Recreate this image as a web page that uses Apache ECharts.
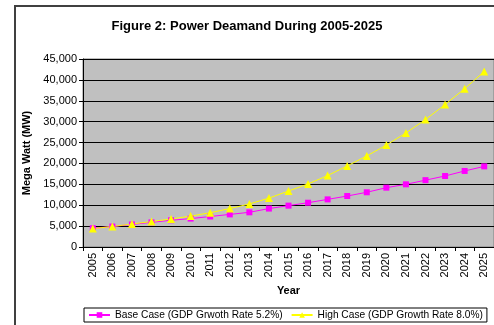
<!DOCTYPE html>
<html>
<head>
<meta charset="UTF-8">
<script src="https://cdn.jsdelivr.net/npm/echarts@6/dist/echarts.min.js"></script>
<style>
  html, body { margin: 0; padding: 0; background: #fff; }
  #chart { width: 494px; height: 325px; }
</style>
</head>
<body>
<div id="chart"></div>
<script>
var years = ['2005','2006','2007','2008','2009','2010','2011','2012','2013','2014','2015',
             '2016','2017','2018','2019','2020','2021','2022','2023','2024','2025'];
var baseCase = [4500, 4900, 5400, 5900, 6400, 6800, 7300, 7800, 8300, 9200, 9900,
                10600, 11400, 12200, 13100, 14200, 15000, 16000, 17000, 18200, 19300];
var highCase = [4400, 4900, 5500, 6100, 6700, 7400, 8200, 9200, 10300, 11700, 13400,
                15100, 17100, 19400, 21800, 24400, 27300, 30500, 34100, 37900, 42000];
var yTicks = [0, 5000, 10000, 15000, 20000, 25000, 30000, 35000, 40000, 45000];

var font = 'Liberation Sans, Arial, sans-serif';
var ec = echarts.init(document.getElementById('chart'));
var option = {
    animation: false,
    backgroundColor: '#fff',
    textStyle: { fontFamily: font },
    title: {
        text: 'Figure 2: Power Deamand During 2005-2025',
        left: 'center',
        top: 15,
        textStyle: { fontFamily: font, fontSize: 13, fontWeight: 'bold', color: '#000' }
    },
    graphic: [{
        type: 'rect',
        shape: { x: 15, y: 6, width: 500, height: 340 },
        style: { fill: null, stroke: '#404040', lineWidth: 2 },
        silent: true
    }],
    legend: {
        left: 84,
        bottom: 3,
        width: 420,
        orient: 'horizontal',
        padding: [2, 4, 2, 4],
        borderColor: '#000',
        borderWidth: 1,
        itemGap: 8,
        itemWidth: 21,
        itemHeight: 7,
        textStyle: { fontFamily: font, fontSize: 10.2, color: '#000' }
    },
    grid: {
        left: 83, right: 0, top: 59, height: 188,
        show: true,
        backgroundColor: '#C0C0C0',
        borderColor: '#808080',
        borderWidth: 1
    },
    xAxis: {
        type: 'category',
        data: years,
        boundaryGap: true,
        name: 'Year',
        nameLocation: 'middle',
        nameGap: 34,
        nameTextStyle: { fontFamily: font, fontSize: 11, fontWeight: 'bold', color: '#000' },
        axisLine: { lineStyle: { color: '#000', width: 1 } },
        axisTick: { show: true, length: 4, lineStyle: { color: '#000' } },
        axisLabel: { rotate: 90, interval: 0, fontSize: 11, color: '#000', fontFamily: font, margin: 6 },
        splitLine: { show: false }
    },
    yAxis: {
        type: 'value',
        min: yTicks[0],
        max: yTicks[yTicks.length - 1],
        interval: yTicks[1] - yTicks[0],
        name: 'Mega Watt (MW)',
        nameLocation: 'middle',
        nameGap: 41,
        nameTextStyle: { fontFamily: font, fontSize: 11, fontWeight: 'bold', color: '#000' },
        axisLine: { show: true, lineStyle: { color: '#000', width: 1 } },
        axisTick: { show: true, length: 4, lineStyle: { color: '#000' } },
        axisLabel: {
            fontSize: 11, color: '#000', fontFamily: font, margin: 6,
            formatter: function (v) { return v.toLocaleString('en-US'); }
        },
        splitLine: { show: true, lineStyle: { color: '#000', width: 1 } }
    },
    series: [
        {
            name: 'Base Case (GDP Grwoth Rate 5.2%)',
            type: 'line',
            data: baseCase,
            symbol: 'rect',
            symbolSize: 6,
            color: '#FF00FF',
            lineStyle: { color: '#FF00FF', width: 1 },
            itemStyle: { color: '#FF00FF' }
        },
        {
            name: 'High Case (GDP Growth Rate 8.0%)',
            type: 'line',
            data: highCase,
            symbol: 'triangle',
            symbolSize: 8,
            color: '#FFFF00',
            lineStyle: { color: '#FFFF00', width: 1 },
            itemStyle: { color: '#FFFF00' }
        }
    ]
};
ec.setOption(option);
</script>
</body>
</html>
